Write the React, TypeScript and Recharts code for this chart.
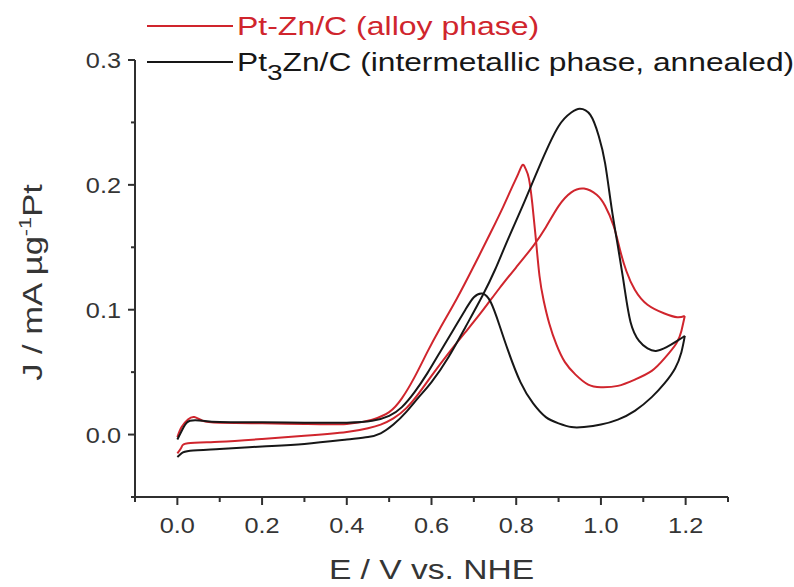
import { LineChart, Line, XAxis, YAxis, Label } from "recharts";

const RED = "#d0252d";
const BLACK = "#171717";
const AXIS = "#2f2f2f";
const TEXT = "#353535";
const FONT = "'Liberation Sans', Arial, Helvetica, sans-serif";

// axis ticks
const xTicks = [-0.1, 0, 0.1, 0.2, 0.3, 0.4, 0.5, 0.6, 0.7, 0.8, 0.9, 1.0, 1.1, 1.2, 1.3];
const xLabeled = [0, 0.2, 0.4, 0.6, 0.8, 1.0, 1.2];
const yTicks = [-0.05, 0, 0.05, 0.1, 0.15, 0.2, 0.25, 0.3];
const yLabeled = [0, 0.1, 0.2, 0.3];

// Pt3Zn/C (intermetallic, annealed) - forward scan
const blackFwdE = [0.0, 0.01, 0.03, 0.1, 0.2, 0.3, 0.4, 0.45, 0.48, 0.51, 0.54, 0.57, 0.6, 0.64, 0.68, 0.72, 0.75, 0.78, 0.82, 0.86, 0.9, 0.93, 0.95, 0.975, 0.995, 1.01, 1.025, 1.04, 1.055, 1.07, 1.09, 1.11, 1.13, 1.155, 1.18, 1.198];
const blackFwdJ = [-0.018, -0.015, -0.013, -0.0115, -0.0095, -0.0075, -0.004, -0.002, 0.001, 0.008, 0.018, 0.03, 0.042, 0.062, 0.086, 0.111, 0.132, 0.156, 0.187, 0.219, 0.247, 0.258, 0.261, 0.256, 0.239, 0.217, 0.182, 0.151, 0.119, 0.09, 0.075, 0.069, 0.067, 0.07, 0.075, 0.079];
// reverse scan
const blackRevE = [1.198, 1.19, 1.175, 1.15, 1.12, 1.08, 1.04, 1.0, 0.96, 0.93, 0.9, 0.87, 0.84, 0.81, 0.78, 0.76, 0.74, 0.72, 0.7, 0.68, 0.65, 0.62, 0.59, 0.56, 0.53, 0.5, 0.46, 0.4, 0.3, 0.2, 0.1, 0.06, 0.03, 0.015, 0.0];
const blackRevJ = [0.079, 0.066, 0.053, 0.041, 0.03, 0.019, 0.012, 0.008, 0.006, 0.006, 0.009, 0.014, 0.025, 0.042, 0.068, 0.088, 0.106, 0.113, 0.11, 0.1, 0.083, 0.066, 0.049, 0.034, 0.022, 0.015, 0.011, 0.0095, 0.0095, 0.0098, 0.01, 0.011, 0.011, 0.006, -0.004];

// Pt-Zn/C (alloy phase) - forward scan
const redFwdE = [0.0, 0.01, 0.025, 0.1, 0.2, 0.3, 0.4, 0.45, 0.48, 0.51, 0.54, 0.57, 0.6, 0.64, 0.68, 0.72, 0.76, 0.8, 0.84, 0.87, 0.9, 0.93, 0.96, 0.99, 1.01, 1.03, 1.045, 1.06, 1.08, 1.11, 1.15, 1.18, 1.198];
const redFwdJ = [-0.015, -0.01, -0.007, -0.0057, -0.0035, -0.001, 0.002, 0.005, 0.008, 0.013, 0.021, 0.033, 0.047, 0.065, 0.082, 0.099, 0.117, 0.134, 0.151, 0.166, 0.183, 0.194, 0.197, 0.192, 0.183, 0.167, 0.148, 0.131, 0.116, 0.104, 0.097, 0.094, 0.095];
// reverse scan
const redRevE = [1.198, 1.19, 1.178, 1.15, 1.12, 1.08, 1.04, 1.0, 0.97, 0.94, 0.915, 0.895, 0.878, 0.865, 0.855, 0.846, 0.838, 0.83, 0.822, 0.815, 0.805, 0.79, 0.77, 0.74, 0.7, 0.66, 0.62, 0.59, 0.56, 0.53, 0.5, 0.46, 0.4, 0.3, 0.2, 0.1, 0.06, 0.04, 0.025, 0.01, 0.0];
const redRevJ = [0.095, 0.083, 0.073, 0.061, 0.051, 0.044, 0.039, 0.038, 0.04, 0.048, 0.058, 0.072, 0.089, 0.107, 0.127, 0.158, 0.185, 0.205, 0.213, 0.216, 0.209, 0.198, 0.183, 0.162, 0.135, 0.109, 0.085, 0.066, 0.046, 0.029, 0.018, 0.012, 0.0085, 0.0085, 0.009, 0.0095, 0.011, 0.014, 0.012, 0.006, -0.002];

const zip = (e: number[], j: number[]) => e.map((v, i) => ({ e: v, j: j[i] }));

const scans = [
  { key: "redFwd", color: RED, data: zip(redFwdE, redFwdJ) },
  { key: "redRev", color: RED, data: zip(redRevE, redRevJ) },
  { key: "blackFwd", color: BLACK, data: zip(blackFwdE, blackFwdJ) },
  { key: "blackRev", color: BLACK, data: zip(blackRevE, blackRevJ) },
];

const has = (arr: number[], v: number) => arr.some((t) => Math.abs(t - v) < 1e-6);

function XTick(props: any) {
  const { x, y, payload } = props;
  const v = payload.value as number;
  const major = has(xLabeled, v);
  return (
    <g>
      <line x1={x} x2={x} y1={y} y2={y + (major ? 8 : 5)} stroke={AXIS} strokeWidth={2} />
      {major && (
        <text
          transform={`translate(${x},${y + 36}) scale(1.15,1)`}
          textAnchor="middle"
          fontSize={22}
          fill={TEXT}
          fontFamily={FONT}
        >
          {v.toFixed(1)}
        </text>
      )}
    </g>
  );
}

function YTick(props: any) {
  const { x, y, payload } = props;
  const v = payload.value as number;
  const major = has(yLabeled, v);
  return (
    <g>
      <line x1={x - (major ? 7 : 4)} x2={x} y1={y} y2={y} stroke={AXIS} strokeWidth={2} />
      {major && (
        <text
          transform={`translate(${x - 14},${y + 8}) scale(1.15,1)`}
          textAnchor="end"
          fontSize={22}
          fill={TEXT}
          fontFamily={FONT}
        >
          {v.toFixed(1)}
        </text>
      )}
    </g>
  );
}

function XTitle(props: any) {
  const { viewBox } = props;
  return (
    <text
      transform={`translate(${viewBox.x + viewBox.width / 2},${viewBox.y + 82}) scale(1.2,1)`}
      textAnchor="middle"
      fontSize={28}
      fill={TEXT}
      fontFamily={FONT}
    >
      E / V vs. NHE
    </text>
  );
}

function YTitle(props: any) {
  const { viewBox } = props;
  const cy = viewBox.y + viewBox.height / 2 + 4;
  return (
    <text
      transform={`translate(42,${cy}) rotate(-90) scale(1.28,1)`}
      textAnchor="middle"
      fontSize={27}
      fill={TEXT}
      fontFamily={FONT}
    >
      J / mA µg
      <tspan fontSize={17} dy={-11}>-1</tspan>
      <tspan dy={11}>Pt</tspan>
    </text>
  );
}

export default function App() {
  return (
    <div style={{ position: "absolute", left: 0, top: 0, width: 794, height: 587, background: "#fff" }}>
      <LineChart width={794} height={587} margin={{ top: 60, right: 66, left: 0, bottom: 0 }}>
        <XAxis
          dataKey="e"
          type="number"
          domain={[-0.1, 1.3]}
          ticks={xTicks}
          interval={0}
          allowDataOverflow
          height={90}
          tick={<XTick />}
          tickLine={false}
          tickSize={0}
          tickMargin={0}
          axisLine={{ stroke: AXIS, strokeWidth: 2 }}
        >
          <Label content={<XTitle />} />
        </XAxis>
        <YAxis
          type="number"
          domain={[-0.05, 0.3]}
          ticks={yTicks}
          interval={0}
          allowDataOverflow
          width={135}
          tick={<YTick />}
          tickLine={false}
          tickSize={0}
          tickMargin={0}
          axisLine={{ stroke: AXIS, strokeWidth: 2 }}
        >
          <Label content={<YTitle />} />
        </YAxis>
        {scans.map((s) => (
          <Line
            key={s.key}
            data={s.data}
            dataKey="j"
            type="natural"
            stroke={s.color}
            strokeWidth={2}
            dot={false}
            activeDot={false}
            isAnimationActive={false}
          />
        ))}
      </LineChart>
      <svg
        width={794}
        height={90}
        style={{ position: "absolute", left: 0, top: 0, pointerEvents: "none" }}
      >
        <line x1={147} x2={233} y1={26} y2={26} stroke={RED} strokeWidth={2} />
        <text transform="translate(237,35) scale(1.28,1)" fontSize={25} fill={RED} fontFamily={FONT}>
          Pt-Zn/C (alloy phase)
        </text>
        <line x1={147} x2={233} y1={62} y2={62} stroke={BLACK} strokeWidth={2} />
        <text transform="translate(237,71) scale(1.27,1)" fontSize={25} fill={BLACK} fontFamily={FONT}>
          Pt
          <tspan fontSize={22} dy={9}>3</tspan>
          <tspan dy={-9}>Zn/C (intermetallic phase, annealed)</tspan>
        </text>
      </svg>
    </div>
  );
}
